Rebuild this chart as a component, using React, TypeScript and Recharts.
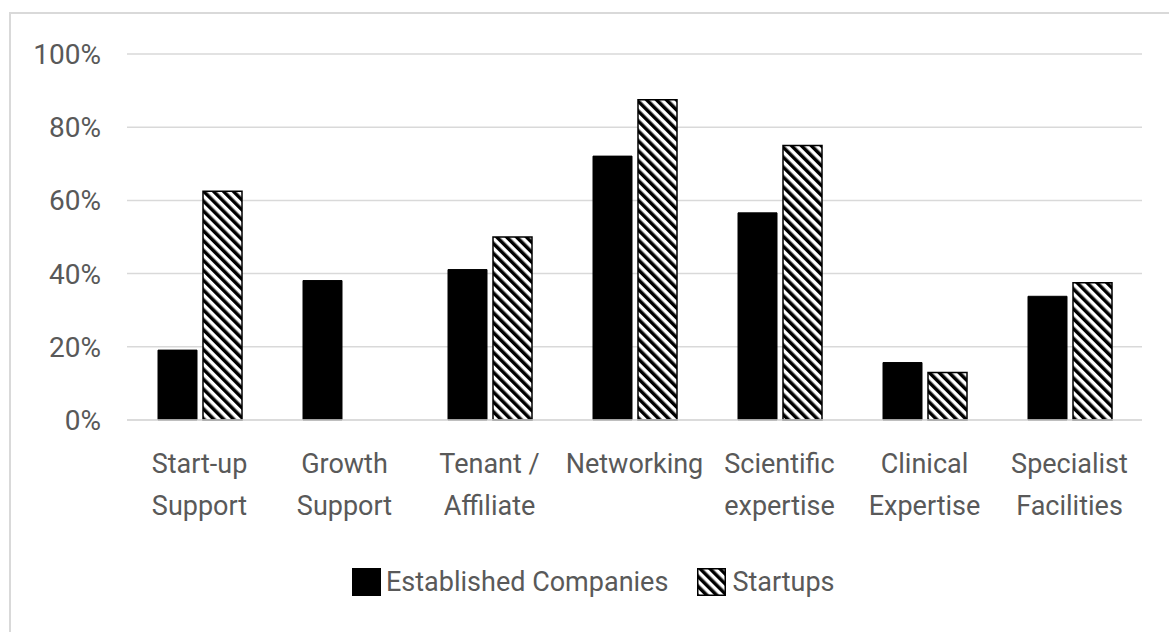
import { BarChart, Bar, XAxis, YAxis, CartesianGrid, Legend } from 'recharts';

// categories ('\n' marks the line break under the axis)
const categories = [
    'Start-up\nSupport',
    'Growth\nSupport',
    'Tenant /\nAffiliate',
    'Networking',
    'Scientific\nexpertise',
    'Clinical\nExpertise',
    'Specialist\nFacilities',
];

// share of respondents, in %
const established = [19.1, 38.1, 41.1, 72.1, 56.6, 15.7, 33.8];
const startups = [62.5, 0, 50, 87.5, 75, 13, 37.5];

const yTicks = [0, 20, 40, 60, 80, 100];

const data = categories.map((name, i) => ({
    name,
    established: established[i],
    startups: startups[i],
}));

const FONT = 'Roboto, "Open Sans", sans-serif';
const TEXT = '#595959';
const GRID = '#d9d9d9';

function CategoryTick(props: any) {
    const { x, y, payload } = props;
    const lines = String(payload.value).split('\n');
    return (
        <g>
            {lines.map((line, i) => (
                <text
                    key={i}
                    x={x}
                    y={y + 45 + i * 42}
                    textAnchor="middle"
                    fill={TEXT}
                    fontSize={27}
                    fontFamily={FONT}
                >
                    {line}
                </text>
            ))}
        </g>
    );
}

function LegendContent() {
    return (
        <div style={{ display: 'flex', alignItems: 'center', fontFamily: FONT, fontSize: 27, color: TEXT, whiteSpace: 'nowrap' }}>
            <span style={{ display: 'inline-block', width: 29, height: 28, background: '#000', marginRight: 5 }} />
            <span>Established Companies</span>
            <svg width={29} height={28} style={{ marginLeft: 29, marginRight: 6 }}>
                <defs>
                    <pattern id="hatchLegend" patternUnits="userSpaceOnUse" width={7} height={7} patternTransform="rotate(-45)">
                        <rect width={7} height={7} fill="#fff" />
                        <rect width={3.5} height={7} fill="#000" />
                    </pattern>
                </defs>
                <rect x={0.75} y={0.75} width={27.5} height={26.5} fill="url(#hatchLegend)" stroke="#000" strokeWidth={1.5} />
            </svg>
            <span>Startups</span>
        </div>
    );
}

export default function App() {
    return (
        <div style={{ position: 'absolute', left: 0, top: 0, width: 1169, height: 632, background: '#fff', overflow: 'hidden' }}>
            <div
                style={{
                    position: 'absolute',
                    left: 9,
                    top: 12,
                    width: 1300,
                    height: 800,
                    borderLeft: `2px solid ${GRID}`,
                    borderTop: `2px solid ${GRID}`,
                }}
            />
            <div style={{ position: 'absolute', left: 0, top: 0 }}>
                <BarChart
                    width={1169}
                    height={632}
                    data={data}
                    margin={{ top: 54, right: 27, left: 0, bottom: 0 }}
                    barSize={39}
                    barGap={6}
                >
                    <defs>
                        <pattern id="hatch" patternUnits="userSpaceOnUse" width={7} height={7} patternTransform="rotate(-45)">
                            <rect width={7} height={7} fill="#fff" />
                            <rect width={3.5} height={7} fill="#000" />
                        </pattern>
                    </defs>
                    <CartesianGrid vertical={false} stroke={GRID} strokeWidth={1.5} />
                    <XAxis
                        dataKey="name"
                        interval={0}
                        height={212}
                        axisLine={{ stroke: GRID, strokeWidth: 1.5 }}
                        tickLine={false}
                        tick={<CategoryTick />}
                    />
                    <YAxis
                        domain={[0, 100]}
                        ticks={yTicks}
                        width={127}
                        axisLine={false}
                        tickLine={false}
                        tickMargin={20}
                        tickFormatter={(v: number) => `${v}%`}
                        tick={{ fill: TEXT, fontSize: 28, fontFamily: FONT }}
                    />
                    <Legend
                        layout="horizontal"
                        verticalAlign="middle"
                        align="center"
                        wrapperStyle={{ left: 352, top: 566, width: 560, height: 32 }}
                        content={<LegendContent />}
                    />
                    <Bar dataKey="established" name="Established Companies" fill="#000" stroke="#000" strokeWidth={1} isAnimationActive={false} />
                    <Bar dataKey="startups" name="Startups" fill="url(#hatch)" stroke="#000" strokeWidth={1.5} isAnimationActive={false} />
                </BarChart>
            </div>
        </div>
    );
}
